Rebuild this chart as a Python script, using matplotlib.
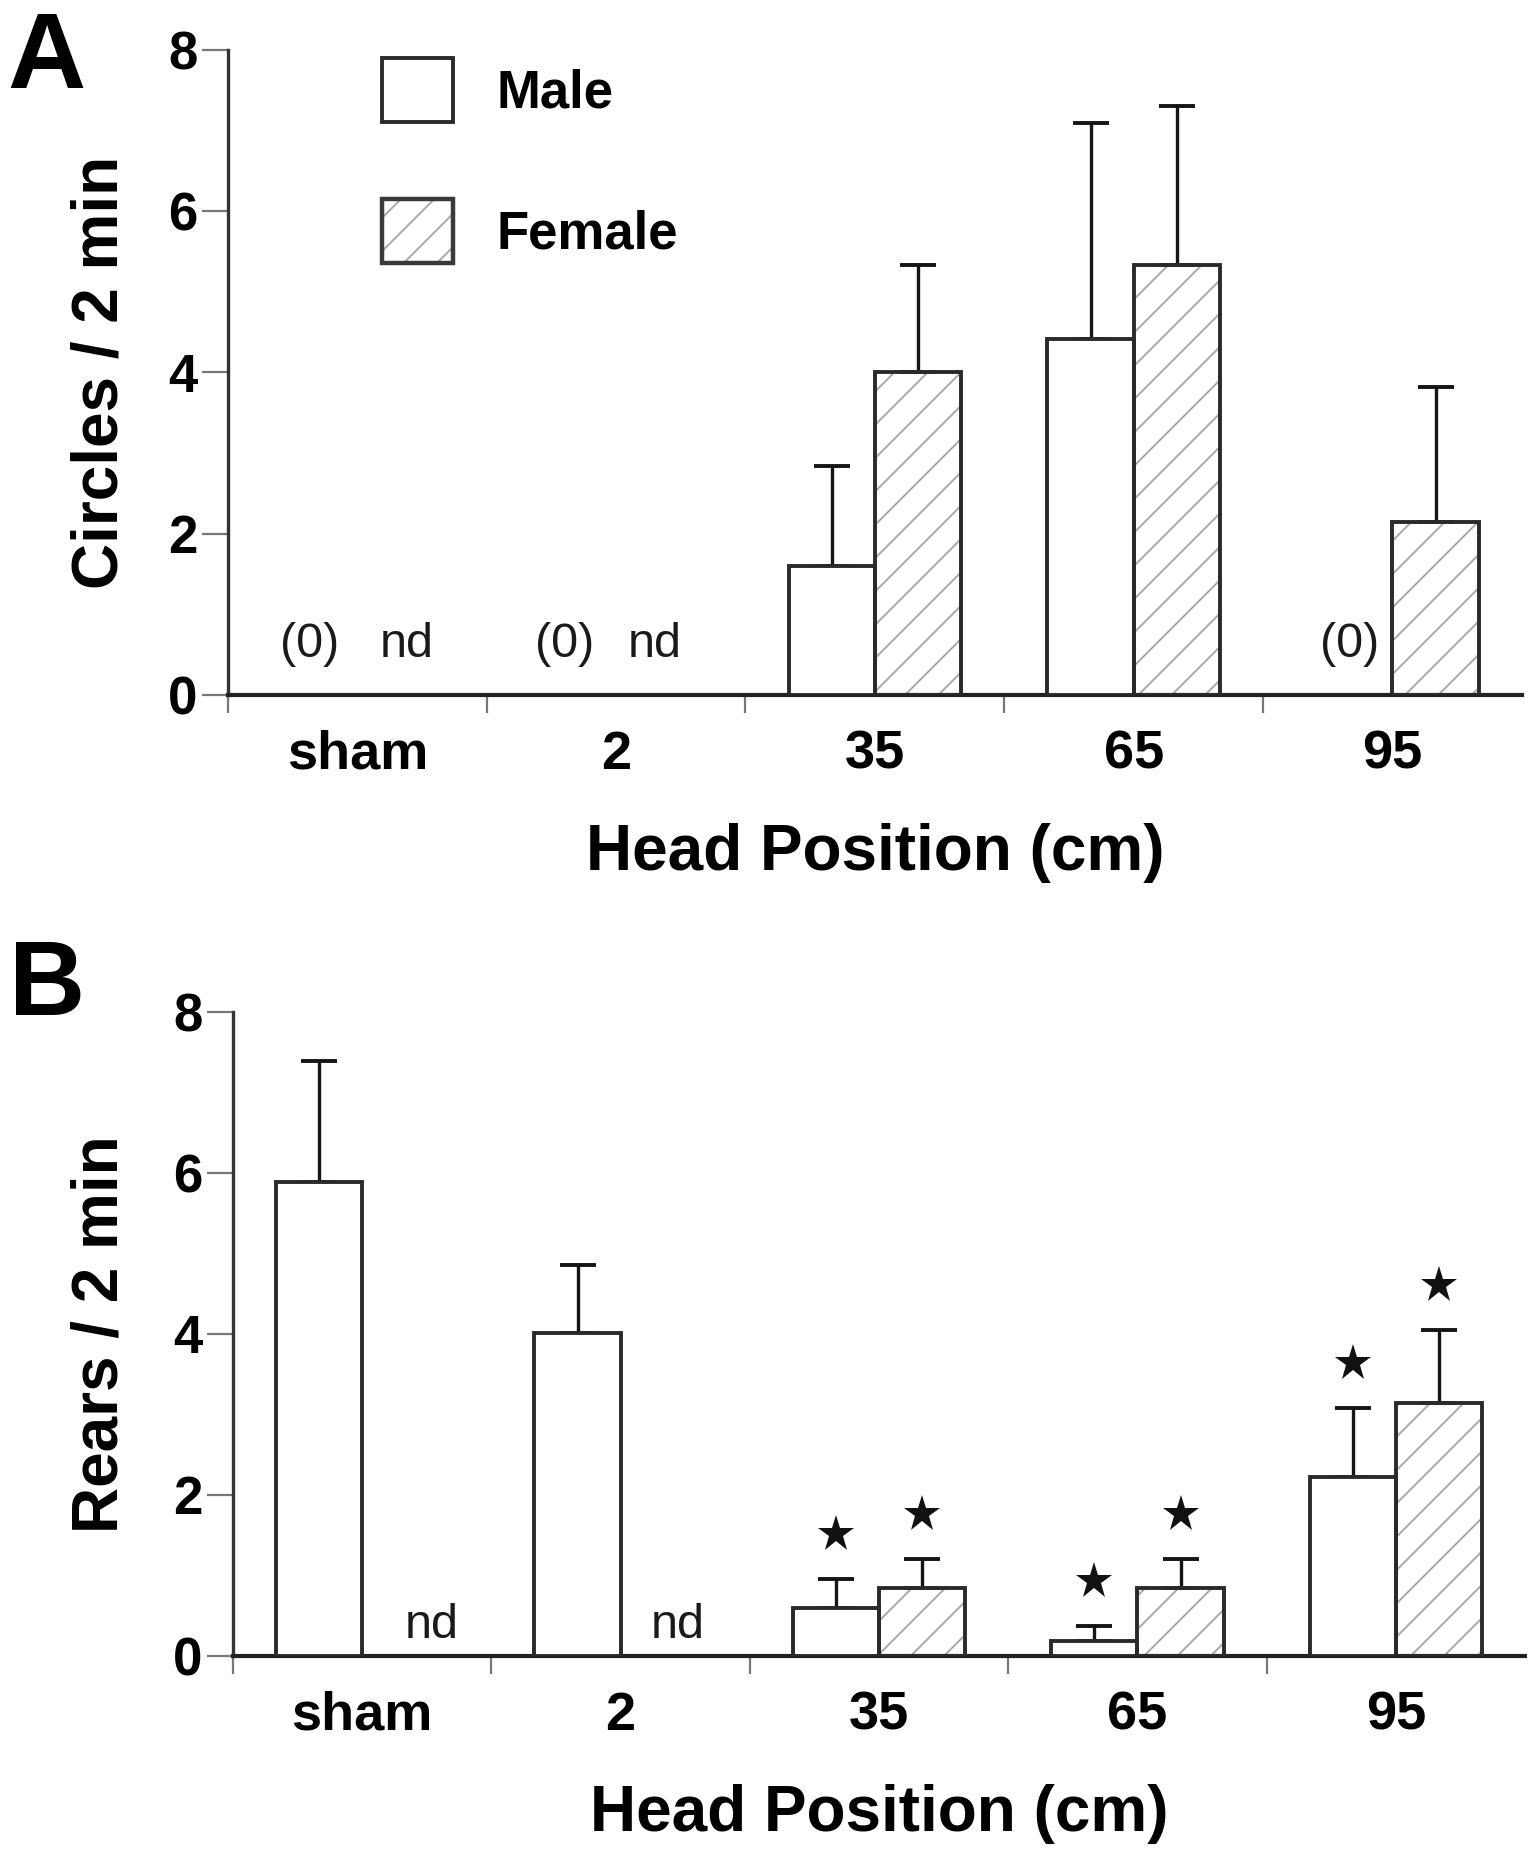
import numpy as np
import matplotlib
matplotlib.use("Agg")
import matplotlib.pyplot as plt
from matplotlib.patches import Patch

plt.rcParams['font.family'] = ['Liberation Sans', 'DejaVu Sans']
plt.rcParams['hatch.linewidth'] = 1.4

# data
positions = ['sham', '2', '35', '65', '95']

circ_male = [np.nan, np.nan, 1.60, 4.41, np.nan]
circ_male_err = [np.nan, np.nan, 1.24, 2.68, np.nan]
circ_female = [np.nan, np.nan, 4.00, 5.33, 2.15]
circ_female_err = [np.nan, np.nan, 1.33, 1.97, 1.67]

rear_male = [5.89, 4.01, 0.60, 0.19, 2.22]
rear_male_err = [1.50, 0.84, 0.36, 0.18, 0.86]
rear_female = [np.nan, np.nan, 0.84, 0.84, 3.14]
rear_female_err = [np.nan, np.nan, 0.36, 0.36, 0.91]

rear_male_sig = [False, False, True, True, True]
rear_female_sig = [False, False, True, True, True]

# (text, x, y) annotations for zero / not determined groups
circ_notes = [('(0)', -0.185, 0.63), ('nd', 0.19, 0.63),
              ('(0)', 0.80, 0.63), ('nd', 1.15, 0.63),
              ('(0)', 3.833, 0.63)]
rear_notes = [('nd', 0.27, 0.38), ('nd', 1.22, 0.38)]

W = 0.333
EDGE = '#2a2a2a'
HATCH_C = '#a8a8a8'


def draw_bars(ax, vals, errs, offset, hatched):
    x = np.arange(len(vals)) + offset
    v = np.array(vals, dtype=float)
    e = np.array(errs, dtype=float)
    m = ~np.isnan(v)
    if hatched:
        ax.bar(x[m], v[m], W, color='white', edgecolor=HATCH_C, hatch='/',
               linewidth=0, zorder=2)
    ax.bar(x[m], v[m], W, color='none' if hatched else 'white',
           edgecolor=EDGE, linewidth=2.8, zorder=3)
    ax.errorbar(x[m], v[m], yerr=[np.zeros(m.sum()), e[m]], fmt='none',
                ecolor='#151515', elinewidth=2.4, capsize=13, capthick=2.8,
                zorder=2.5)
    return x, v, e


def style_axis(ax, ylabel):
    ax.set_xlim(-0.5, 4.5)
    ax.set_ylim(0, 8)
    for s in ['top', 'right']:
        ax.spines[s].set_visible(False)
    ax.spines['left'].set_color('#333333')
    ax.spines['bottom'].set_color('#222222')
    ax.spines['left'].set_linewidth(2.4)
    ax.spines['bottom'].set_linewidth(3.0)
    ax.set_yticks([0, 2, 4, 6, 8])
    ax.tick_params(axis='y', length=19, width=1.6, color='#777777',
                   labelsize=38, pad=3)
    for t in ax.get_yticklabels():
        t.set_fontweight('bold')
    ax.set_xticks([-0.5, 0.5, 1.5, 2.5, 3.5])
    ax.set_xticklabels([])
    ax.tick_params(axis='x', which='major', length=13, width=1.6,
                   color='#777777')
    ax.set_xticks(np.arange(len(positions)), minor=True)
    ax.set_xticklabels(positions, minor=True, fontsize=39, fontweight='bold')
    ax.tick_params(axis='x', which='minor', length=0, pad=25)
    ax.set_xlabel('Head Position (cm)', fontsize=46, fontweight='bold')
    ax.xaxis.set_label_coords(0.5, -0.198)
    ax.set_ylabel(ylabel, fontsize=46, fontweight='bold')


fig = plt.figure(figsize=(15.33, 18.53), dpi=100)
axA = fig.add_axes([0.1487, 0.6249, 0.844, 0.3483])
axB = fig.add_axes([0.1519, 0.1063, 0.843, 0.3477])

# panel A
draw_bars(axA, circ_male, circ_male_err, -W / 2, False)
draw_bars(axA, circ_female, circ_female_err, W / 2, True)
for txt, x, y in circ_notes:
    axA.text(x, y, txt, ha='center', va='center', fontsize=35, color='#1a1a1a')
style_axis(axA, 'Circles / 2 min')
axA.yaxis.set_label_coords(-0.075, 0.5)

male_h = Patch(facecolor='white', edgecolor=EDGE, linewidth=2.8)
fem_fill = Patch(facecolor='white', edgecolor=HATCH_C, hatch='/', linewidth=0)
fem_edge = Patch(facecolor='none', edgecolor='#3a3a3a', linewidth=3.2)
axA.legend([male_h, (fem_fill, fem_edge)], ['Male', 'Female'],
           loc='upper left', bbox_to_anchor=(0.119, 0.987), frameon=False,
           prop={'size': 38, 'weight': 'bold'}, handlelength=1.34,
           handleheight=1.48, labelspacing=1.46, handletextpad=0.83,
           borderpad=0, borderaxespad=0)

# panel B
xm, vm, em = draw_bars(axB, rear_male, rear_male_err, -W / 2, False)
xf, vf, ef = draw_bars(axB, rear_female, rear_female_err, W / 2, True)
for xs, vs, es, sig in [(xm, vm, em, rear_male_sig), (xf, vf, ef, rear_female_sig)]:
    for xi, vi, ei, s in zip(xs, vs, es, sig):
        if s:
            axB.plot(xi, vi + ei + 0.56, marker='*', markersize=28,
                     color='#111111', markeredgewidth=0, zorder=4)
for txt, x, y in rear_notes:
    axB.text(x, y, txt, ha='center', va='center', fontsize=35, color='#1a1a1a')
style_axis(axB, 'Rears / 2 min')
axB.yaxis.set_label_coords(-0.079, 0.5)

fig.text(46 / 1533, 1 - 10 / 1853, 'A', ha='center', va='top',
         fontsize=78, fontweight='bold')
fig.text(47 / 1533, 1 - 938 / 1853, 'B', ha='center', va='top',
         fontsize=76, fontweight='bold')

fig.savefig('out.png', dpi=100, facecolor='white')
